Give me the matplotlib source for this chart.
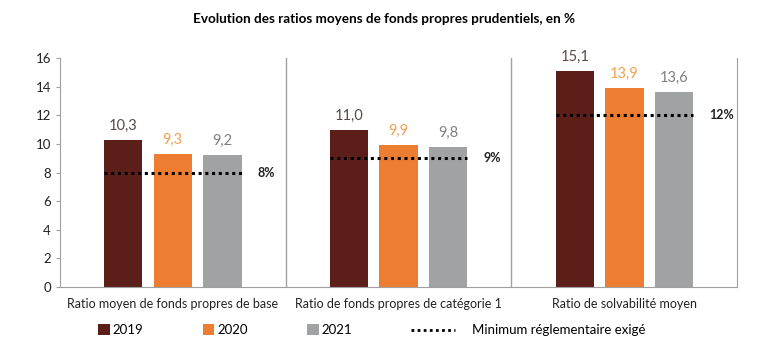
import numpy as np
import matplotlib.pyplot as plt

plt.rcParams['font.family'] = ['Lato', 'DejaVu Sans']

categories = ['Ratio moyen de fonds propres de base',
              'Ratio de fonds propres de catégorie 1',
              'Ratio de solvabilité moyen']
years = ['2019', '2020', '2021']
v2019 = [10.3, 11.0, 15.1]
v2020 = [9.3, 9.9, 13.9]
v2021 = [9.2, 9.8, 13.6]
minimum = [8, 9, 12]
min_labels = ['8%', '9%', '12%']

colors = ['#5c1e19', '#ed7d31', '#a0a2a4']
label_colors = ['#5a4a48', '#f0a050', '#808080']

fig = plt.figure(figsize=(7.68, 3.61), dpi=100)
ax = fig.add_axes([0.078, 0.205, 0.882, 0.634])

x = np.arange(len(categories))
w = 0.17
offsets = [-0.22, 0, 0.22]
for vals, off, c, lc, lab in zip([v2019, v2020, v2021], offsets, colors, label_colors, years):
    ax.bar(x + off, vals, width=w, color=c, label=lab)
    for xi, v in zip(x, vals):
        ax.text(xi + off, v + 0.5, f'{v:.1f}'.replace('.', ','), ha='center', va='bottom',
                fontsize=10.5, color=lc)

for i, (m, ml) in enumerate(zip(minimum, min_labels)):
    ax.plot([i - 0.305, i + 0.305], [m, m], color='black', linestyle=(0, (1, 1.2)),
            linewidth=2.2, label='Minimum réglementaire exigé' if i == 0 else None)
    ax.text(i + 0.375, m, ml, ha='left', va='center', fontsize=9, fontweight='bold', color='#222222')

for sep in [0.5, 1.5]:
    ax.axvline(sep, color='#a0a0a0', linewidth=1)

ax.set_xlim(-0.5, 2.5)
ax.set_ylim(0, 16)
ax.set_yticks(range(0, 17, 2))
ax.set_xticks(x)
ax.set_xticklabels(categories, fontsize=9, color='#222222')
ax.tick_params(axis='x', length=0, pad=8)
ax.tick_params(axis='y', length=3, color='#a0a0a0', labelsize=9.5, labelcolor='#222222')
ax.spines['top'].set_visible(False)
for s in ['left', 'right', 'bottom']:
    ax.spines[s].set_color('#a0a0a0')

fig.suptitle('Evolution des ratios moyens de fonds propres prudentiels, en %',
             y=0.965, fontsize=9.7, fontweight='bold')

h, l = ax.get_legend_handles_labels()
leg1 = fig.legend(h[1:], l[1:], ncol=3, frameon=False,
                  loc='center left', bbox_to_anchor=(0.112, 0.085), fontsize=9.5,
                  handlelength=0.9, handleheight=0.9, columnspacing=4.5, handletextpad=0.2)
leg2 = fig.legend(h[:1], l[:1], frameon=False,
                  loc='center left', bbox_to_anchor=(0.52, 0.085), fontsize=9.5,
                  handlelength=3.3, handletextpad=1.3)
leg2.legend_handles[0].set_linewidth(2)

fig.savefig('out.png', dpi=100)
